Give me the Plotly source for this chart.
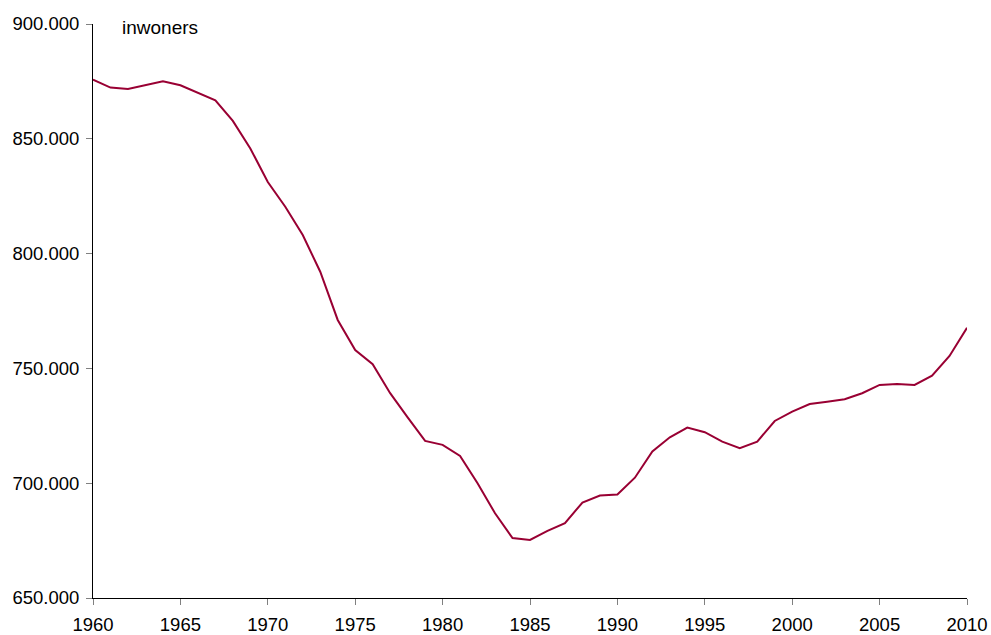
import plotly.graph_objects as go

years = list(range(1960, 2011))
inwoners = [
    875800, 872300, 871700, 873300, 875100, 873300, 870000, 866800, 857800, 845800,
    831200, 820400, 808100, 792100, 771100, 758000, 751800, 739200, 728700, 718400,
    716700, 711900, 700000, 686900, 676100, 675300, 679200, 682600, 691600, 694600,
    695100, 702400, 713800, 720000, 724200, 722200, 718100, 715200, 718100, 727100,
    731200, 734500, 735500, 736600, 739200, 742800, 743200, 742800, 746800, 755400,
    767700,
]
y_ticks = [650000, 700000, 750000, 800000, 850000, 900000]
x_ticks = [1960, 1965, 1970, 1975, 1980, 1985, 1990, 1995, 2000, 2005, 2010]
label = "inwoners"

fig = go.Figure()
fig.add_trace(go.Scatter(
    x=years, y=inwoners, mode="lines",
    line=dict(color="#990033", width=2),
    showlegend=False, hoverinfo="x+y",
))

font_family = "Liberation Sans, Arial, sans-serif"
fig.update_layout(
    template="none",
    width=991, height=635,
    margin=dict(l=93, r=24, t=24, b=37, autoexpand=False),
    paper_bgcolor="white", plot_bgcolor="white",
    separators=",.",
    font=dict(family=font_family, size=18.5, color="#000000"),
    xaxis=dict(
        range=[1960, 2010], tickvals=x_ticks, ticktext=[str(t) for t in x_ticks],
        showgrid=False, zeroline=False, automargin=False,
        showline=True, linecolor="#000000", linewidth=1,
        ticks="outside", ticklen=6, tickcolor="#808080", tickwidth=1,
        ticklabelstandoff=4,
        tickfont=dict(family=font_family, size=18.5, color="#000000"),
    ),
    yaxis=dict(
        range=[650000, 900000], tickvals=y_ticks, tickformat=",.0f",
        showgrid=False, zeroline=False, automargin=False,
        showline=True, linecolor="#000000", linewidth=1,
        ticks="outside", ticklen=6, tickcolor="#808080", tickwidth=1,
        ticklabelstandoff=3,
        tickfont=dict(family=font_family, size=18.5, color="#000000"),
    ),
    annotations=[dict(
        text=label, xref="paper", yref="paper", x=0.031, y=0.994,
        xanchor="left", yanchor="middle", showarrow=False,
        font=dict(family=font_family, size=19, color="#000000"),
    )],
)

fig.write_html(
    "out.html",
    config={"displayModeBar": False},
    post_script="document.body.style.margin='0';document.body.style.overflow='hidden';",
)
